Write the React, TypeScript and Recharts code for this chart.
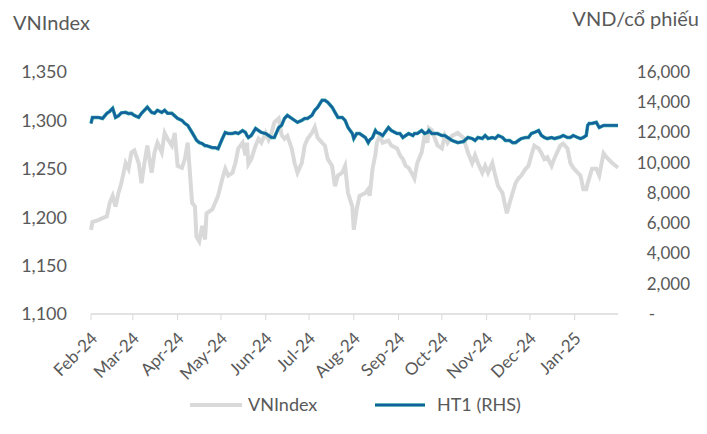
import { LineChart, Line, XAxis, YAxis } from 'recharts';

// days since 1 Feb 2024
const days = [
  0, 1, 5, 8, 11, 13, 15, 17, 19, 21,
  24, 26, 28, 30, 33, 35, 37, 39, 42, 44,
  46, 49, 51, 53, 56, 58, 60, 63, 65, 67,
  70, 72, 73, 75, 77, 79, 80, 84, 86, 88,
  91, 93, 95, 98, 100, 102, 105, 107, 108, 109,
  111, 114, 116, 118, 121, 123, 125, 127, 130, 132,
  134, 136, 139, 141, 143, 146, 148, 150, 153, 155,
  157, 160, 162, 164, 167, 169, 171, 174, 176, 178,
  181, 182, 184, 186, 190, 192, 193, 195, 197, 198,
  200, 202, 206, 208, 212, 214, 216, 218, 220, 223,
  224, 226, 229, 231, 233, 234, 236, 240, 243, 245,
  247, 250, 254, 258, 261, 264, 266, 268, 271, 273,
  275, 278, 280, 282, 285, 287, 288, 290, 292, 294,
  296, 298, 301, 303, 305, 307, 310, 312, 314, 316,
  319, 321, 325, 327, 330, 332, 334, 337, 339, 341,
  343, 344, 345, 347, 350, 352, 355, 357, 361, 365,
];

const vnindex = [
  1187, 1195, 1197, 1199, 1201, 1215, 1222, 1211, 1225, 1235,
  1256, 1250, 1267, 1269, 1256, 1235, 1256, 1274, 1246, 1267,
  1277, 1267, 1287, 1281, 1274, 1287, 1253, 1251, 1260, 1277,
  1215, 1211, 1180, 1175, 1191, 1177, 1204, 1208, 1215, 1222,
  1240, 1250, 1243, 1246, 1256, 1271, 1277, 1264, 1277, 1255,
  1260, 1274, 1281, 1277, 1287, 1280, 1287, 1298, 1302, 1285,
  1281, 1284, 1271, 1256, 1246, 1256, 1274, 1281, 1287, 1293,
  1282, 1277, 1274, 1260, 1253, 1232, 1243, 1246, 1253, 1225,
  1211, 1187, 1208, 1222, 1225, 1229, 1222, 1250, 1265, 1277,
  1284, 1277, 1279, 1274, 1271, 1264, 1260, 1253, 1251, 1243,
  1240, 1256, 1267, 1284, 1277, 1292, 1290, 1274, 1271, 1284,
  1277, 1284, 1287, 1282, 1267, 1256, 1264, 1256, 1246, 1253,
  1246, 1256, 1243, 1232, 1225, 1211, 1204, 1215, 1225, 1235,
  1240, 1243, 1250, 1253, 1264, 1274, 1271, 1266, 1260, 1262,
  1253, 1261, 1274, 1276, 1271, 1256, 1251, 1246, 1243, 1229,
  1229, 1235, 1240, 1250, 1250, 1243, 1266, 1262, 1256, 1251,
];

const ht1 = [
  12600, 13000, 13000, 12930, 13270, 13400, 13600, 13000, 13100, 13300,
  13330, 13250, 13270, 13130, 13000, 13270, 13470, 13670, 13330, 13270,
  13470, 13330, 13470, 13270, 13270, 13100, 12930, 12800, 12600, 12470,
  12000, 11670, 11500, 11330, 11270, 11130, 11130, 11000, 11000, 10930,
  11600, 12000, 11930, 11930, 12000, 11930, 12130, 12000, 11800, 11670,
  11800, 12270, 12130, 12000, 11930, 11800, 11670, 11670, 12330, 12470,
  12930, 13130, 12930, 12800, 12670, 12800, 12930, 12930, 13130, 13470,
  13670, 14130, 14130, 14000, 13670, 13330, 13000, 13000, 12800, 12330,
  11930, 11600, 11930, 11930, 11670, 11330, 11500, 11670, 12130, 12000,
  11930, 11800, 12330, 12130, 11930, 11930, 11670, 11800, 11930, 11800,
  11930, 11930, 12130, 11930, 12000, 12130, 11930, 11930, 11800, 11800,
  11670, 11470, 11330, 11400, 11670, 11600, 11470, 11670, 11600, 11800,
  11600, 11670, 11600, 11800, 11670, 11470, 11470, 11470, 11330, 11330,
  11470, 11600, 11670, 11670, 11930, 12000, 12130, 11800, 11670, 11600,
  11670, 11600, 11700, 11800, 11670, 11670, 11800, 11670, 11600, 11670,
  11800, 12470, 12600, 12600, 12670, 12330, 12470, 12470, 12470, 12470,
];

const monthTicks = [0, 29, 60, 90, 121, 151, 182, 213, 243, 274, 304, 335];
const monthLabels = ['Feb-24', 'Mar-24', 'Apr-24', 'May-24', 'Jun-24', 'Jul-24', 'Aug-24', 'Sep-24', 'Oct-24', 'Nov-24', 'Dec-24', 'Jan-25'];

const leftTicks = [1100, 1150, 1200, 1250, 1300, 1350];
const rightTicks = [0, 2000, 4000, 6000, 8000, 10000, 12000, 14000, 16000];

const data = days.map((d, i) => ({ day: d, vni: vnindex[i], ht1: ht1[i] }));

const FONT = 'Lato, "Open Sans", sans-serif';
const TEXT = '#595959';

function MonthTick({ x, y, payload }: any) {
  const i = monthTicks.indexOf(payload.value);
  return (
    <g transform={`translate(${x - 1},${y + 9})`}>
      <text textAnchor="end" transform="rotate(-45)" fill={TEXT} fontSize={17} fontFamily={FONT} dy="0.7em">
        {monthLabels[i]}
      </text>
    </g>
  );
}

function RightTick({ x, y, payload }: any) {
  const v = payload.value;
  if (v === 0) {
    return <text x={x + 34} y={y} dy="0.35em" textAnchor="middle" fill={TEXT} fontSize={17} fontFamily={FONT}>-</text>;
  }
  return (
    <text x={x + 72} y={y} dy="0.35em" textAnchor="end" fill={TEXT} fontSize={17} fontFamily={FONT}>
      {v.toLocaleString('en-US')}
    </text>
  );
}

export default function App() {
  return (
    <div style={{ position: 'absolute', left: 0, top: 0, width: 707, height: 434, background: '#fff', fontFamily: FONT }}>
      <div style={{ position: 'absolute', left: 13, top: 10, fontSize: 20, color: TEXT }}>VNIndex</div>
      <div style={{ position: 'absolute', right: 8, top: 6, fontSize: 20, color: TEXT }}>VND/cổ phiếu</div>
      <LineChart width={707} height={434} data={data} margin={{ top: 72, right: 19, left: 21, bottom: 0 }}>
        <XAxis
          dataKey="day"
          type="number"
          domain={[0, 365]}
          ticks={monthTicks}
          interval={0}
          tick={<MonthTick />}
          axisLine={{ stroke: '#d9d9d9', strokeWidth: 1.5 }}
          tickLine={{ stroke: '#d9d9d9' }}
          tickSize={6}
          height={120}
        />
        <YAxis
          yAxisId="left"
          domain={[1100, 1350]}
          ticks={leftTicks}
          width={70}
          axisLine={false}
          tickLine={false}
          tickSize={0}
          tickMargin={24}
          tickFormatter={(v: number) => v.toLocaleString('en-US')}
          tick={{ fill: TEXT, fontSize: 18, fontFamily: FONT }}
        />
        <YAxis
          yAxisId="right"
          orientation="right"
          domain={[0, 16000]}
          ticks={rightTicks}
          width={70}
          axisLine={false}
          tickLine={false}
          tickSize={0}
          tickMargin={0}
          tick={<RightTick />}
        />
        <Line yAxisId="left" dataKey="vni" stroke="#d9d9d9" strokeWidth={4} dot={false} isAnimationActive={false} />
        <Line yAxisId="right" dataKey="ht1" stroke="#2a9d9f" strokeWidth={3.5} dot={false} isAnimationActive={false} />
        <Line yAxisId="right" dataKey="ht1" stroke="#14609f" strokeWidth={2.2} dot={false} isAnimationActive={false} />
      </LineChart>
      <svg style={{ position: 'absolute', left: 0, top: 392 }} width={707} height={30}>
        <line x1={190} x2={242} y1={13} y2={13} stroke="#d9d9d9" strokeWidth={4} />
        <text x={248} y={13} dy="0.35em" fill={TEXT} fontSize={18} fontFamily={FONT}>VNIndex</text>
        <line x1={375} x2={425} y1={13} y2={13} stroke="#2a9d9f" strokeWidth={3.5} />
        <line x1={375} x2={425} y1={13} y2={13} stroke="#14609f" strokeWidth={2.2} />
        <text x={437} y={13} dy="0.35em" fill={TEXT} fontSize={18} fontFamily={FONT}>HT1 (RHS)</text>
      </svg>
    </div>
  );
}
